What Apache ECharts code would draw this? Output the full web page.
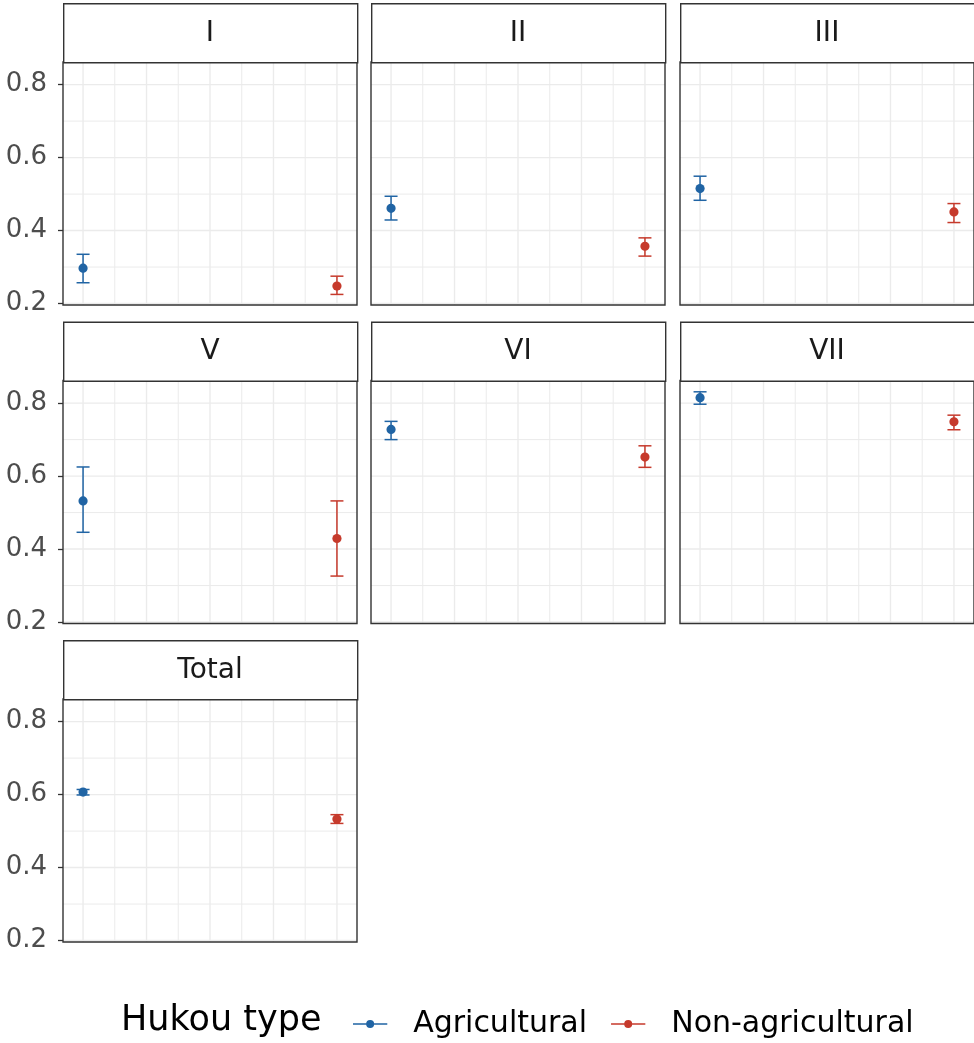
<!DOCTYPE html>
<html>
<head>
<meta charset="utf-8">
<script src="https://cdn.jsdelivr.net/npm/echarts@6/dist/echarts.min.js"></script>
<style>
  html, body { margin: 0; padding: 0; background: #ffffff; }
  #chart { width: 974px; height: 1043px; }
</style>
</head>
<body>
<div id="chart"></div>
<script>
// Panel labels (occupational class) in facet order
const panels = ['I', 'II', 'III', 'V', 'VI', 'VII', 'Total'];

// Agricultural hukou: estimate and confidence interval
const agriMean = [0.297, 0.461, 0.515, 0.532, 0.728, 0.815, 0.607];
const agriLow  = [0.257, 0.429, 0.483, 0.446, 0.700, 0.797, 0.599];
const agriHigh = [0.335, 0.494, 0.549, 0.625, 0.750, 0.831, 0.614];

// Non-agricultural hukou: estimate and confidence interval
const nonMean = [0.248, 0.357, 0.451, 0.429, 0.652, 0.749, 0.533];
const nonLow  = [0.225, 0.330, 0.422, 0.326, 0.624, 0.727, 0.521];
const nonHigh = [0.275, 0.380, 0.474, 0.532, 0.683, 0.767, 0.545];

// Group positions on the horizontal scale
const groupX = { agri: 0, non: 1 };

// Y tick labels and grid positions
const yTicks = [0.2, 0.4, 0.6, 0.8];
const yMinor = [0.3, 0.5, 0.7];
const xMajor = [0, 0.25, 0.5, 0.75, 1];
const xMinor = [0.125, 0.375, 0.625, 0.875];

const legendTitle = 'Hukou type';
const groupNames = ['Agricultural', 'Non-agricultural'];

// ---- layout & style ----
const Y_MIN = 0.196, Y_MAX = 0.862;
const X_MIN = -0.079, X_MAX = 1.079;
const colLeft = [63, 371, 680];
const colWidth = 294;
const stripTop = [3, 321.5, 640];
const stripH = 59;
const plotH = 243;
const BLUE = '#2064a4';
const RED = '#c63a2c';
const BORDER = '#333333';
const GRID = '#ebebeb';
const LABEL_FONT = 'DejaVu Sans';
const TEXT_FONT = 'DejaVu Sans';

const chart = echarts.init(document.getElementById('chart'), null, { renderer: 'canvas' });

const grids = [], xAxes = [], yAxes = [], series = [], graphics = [];

function gridSeries(idx, values, horizontal, width) {
  return {
    type: 'custom',
    xAxisIndex: idx, yAxisIndex: idx,
    silent: true, z: 1,
    data: values.map(v => [v]),
    encode: horizontal ? { y: 0 } : { x: 0 },
    renderItem(params, api) {
      const v = api.value(0);
      let a, b;
      if (horizontal) { a = api.coord([X_MIN, v]); b = api.coord([X_MAX, v]); }
      else { a = api.coord([v, Y_MIN]); b = api.coord([v, Y_MAX]); }
      return { type: 'line', shape: { x1: a[0], y1: a[1], x2: b[0], y2: b[1] },
               style: { stroke: GRID, lineWidth: width } };
    }
  };
}

function errSeries(idx, name, color, x, mean, lo, hi) {
  return {
    name: name,
    type: 'custom',
    xAxisIndex: idx, yAxisIndex: idx,
    z: 5,
    itemStyle: { color: color },
    data: [[x, lo, hi, mean]],
    encode: { x: 0, y: [1, 2, 3] },
    renderItem(params, api) {
      const px = api.value(0);
      const pLo = api.coord([px, api.value(1)]);
      const pHi = api.coord([px, api.value(2)]);
      const pM = api.coord([px, api.value(3)]);
      const cap = 6.5;
      const st = { stroke: color, lineWidth: 1.5 };
      return {
        type: 'group',
        children: [
          { type: 'line', shape: { x1: pLo[0], y1: pLo[1], x2: pHi[0], y2: pHi[1] }, style: st },
          { type: 'line', shape: { x1: pLo[0] - cap, y1: pLo[1], x2: pLo[0] + cap, y2: pLo[1] }, style: st },
          { type: 'line', shape: { x1: pHi[0] - cap, y1: pHi[1], x2: pHi[0] + cap, y2: pHi[1] }, style: st },
          { type: 'circle', shape: { cx: pM[0], cy: pM[1], r: 4.6 }, style: { fill: color } }
        ]
      };
    }
  };
}

panels.forEach((name, i) => {
  const col = i % 3, row = Math.floor(i / 3);
  const left = colLeft[col];
  const sTop = stripTop[row];
  const pTop = sTop + stripH;

  grids.push({ left: left, top: pTop, width: colWidth, height: plotH,
               show: true, borderColor: BORDER, borderWidth: 1.4, backgroundColor: 'transparent',
               containLabel: false, z: 6 });

  xAxes.push({ gridIndex: i, type: 'value', min: X_MIN, max: X_MAX,
               show: false, splitLine: { show: false } });

  yAxes.push({
    gridIndex: i, type: 'value', min: Y_MIN, max: Y_MAX,
    position: 'left',
    axisLine: { show: false, onZero: false },
    splitLine: { show: false },
    axisTick: { show: col === 0, length: 5, customValues: yTicks,
                lineStyle: { color: BORDER, width: 1.3 } },
    axisLabel: { show: col === 0, customValues: yTicks, margin: 16,
                 color: '#4d4d4d', fontSize: 26, fontFamily: LABEL_FONT,
                 formatter: v => v.toFixed(1) }
  });

  series.push(gridSeries(i, yMinor, true, 1.0));
  series.push(gridSeries(i, yTicks, true, 1.4));
  series.push(gridSeries(i, xMinor, false, 1.0));
  series.push(gridSeries(i, xMajor, false, 1.4));
  series.push(errSeries(i, groupNames[0], BLUE, groupX.agri, agriMean[i], agriLow[i], agriHigh[i]));
  series.push(errSeries(i, groupNames[1], RED, groupX.non, nonMean[i], nonLow[i], nonHigh[i]));

  // facet strip
  graphics.push({
    type: 'rect', left: left, top: sTop, z: 10,
    shape: { width: colWidth, height: stripH },
    style: { fill: '#ffffff', stroke: BORDER, lineWidth: 1.4 }
  });
  graphics.push({
    type: 'text', x: left + colWidth / 2, y: sTop + stripH / 2 + 1, z: 11,
    style: { text: name, fill: '#1a1a1a', font: '28px "' + TEXT_FONT + '"',
             textAlign: 'center', textVerticalAlign: 'middle' }
  });
});

const legendIcon = 'path://M0,3.3H36V4.7H0Z M22.2,4A4.2,4.2 0 1 1 13.8,4A4.2,4.2 0 1 1 22.2,4Z';

chart.setOption({
  animation: false,
  backgroundColor: '#ffffff',
  title: {
    text: legendTitle, left: 116, top: 998,
    textStyle: { fontSize: 35, fontWeight: 'normal', color: '#000000', fontFamily: TEXT_FONT }
  },
  legend: {
    data: groupNames.map(n => ({ name: n, icon: legendIcon })),
    left: 348, top: 1004,
    itemWidth: 36, itemHeight: 8, itemGap: 24,
    selectedMode: false,
    textStyle: { fontSize: 30, color: '#000000', fontFamily: TEXT_FONT, padding: [0, 0, 0, 20] }
  },
  grid: grids,
  xAxis: xAxes,
  yAxis: yAxes,
  series: series,
  graphic: graphics
});
</script>
</body>
</html>
